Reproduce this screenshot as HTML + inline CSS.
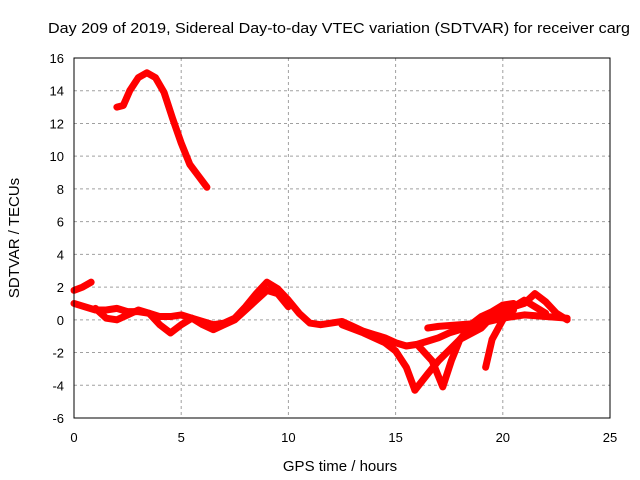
<!DOCTYPE html>
<html><head><meta charset="utf-8"><style>
body{margin:0;background:#fff}
svg{display:block;font-family:"Liberation Sans",sans-serif}
</style></head><body>
<svg id="chart" width="640" height="480">
<text x="339" y="33" text-anchor="middle" font-size="15" textLength="582" lengthAdjust="spacingAndGlyphs">Day 209 of 2019, Sidereal Day-to-day VTEC variation (SDTVAR) for receiver carg</text>
<text x="340" y="471" text-anchor="middle" font-size="15">GPS time / hours</text>
<text transform="translate(19,238) rotate(-90)" text-anchor="middle" font-size="15">SDTVAR / TECUs</text>
<g id="grid"></g><g id="series"></g><g id="axes"></g>
</svg>
<script>
const xTicks=[0,5,10,15,20,25];
const yTicks=[-6,-4,-2,0,2,4,6,8,10,12,14,16];
const arcX=[2.0,2.3,2.6,3.0,3.4,3.8,4.2,4.6,5.0,5.4,5.8,6.2];
const arcY=[13.0,13.1,14.0,14.8,15.1,14.8,13.9,12.3,10.8,9.5,8.8,8.1];
const startX=[0,0.4,0.8];
const startY=[1.8,2.0,2.3];
const mainX=[0,0.5,1,1.5,2,2.5,3,3.5,4,4.5,5,5.5,6,6.5,7,7.5,8,8.5,9,9.5,10,10.5,11,11.5,12,12.5,13,13.5,14,14.5,15,15.5,16,16.5,17,17.5,18,18.5,19,19.5,20,20.5,21,21.5,22,22.5,23];
const mainY=[1.0,0.8,0.6,0.6,0.7,0.5,0.5,0.4,0.2,0.2,0.3,0.1,-0.1,-0.3,-0.2,0.1,0.8,1.6,2.3,1.9,1.2,0.4,-0.2,-0.3,-0.2,-0.1,-0.4,-0.7,-0.9,-1.1,-1.4,-1.6,-1.5,-1.3,-1.1,-0.8,-0.6,-0.3,0.2,0.5,0.9,0.8,1.0,1.6,1.1,0.4,0.0];
const lowX=[1,1.5,2,2.5,3,3.5,4,4.5,5,5.5,6,6.5,7,7.5,8,8.5,9,9.5,10];
const lowY=[0.7,0.1,0.0,0.3,0.6,0.4,-0.3,-0.8,-0.3,0.1,-0.3,-0.6,-0.3,0.0,0.6,1.2,1.8,1.6,0.8];
const dropX=[12.5,13.5,14.5,15.0,15.5,15.9];
const dropY=[-0.3,-0.8,-1.4,-1.9,-2.9,-4.3];
const riseAX=[15.9,16.5,17,18,19,20,20.5];
const riseAY=[-4.3,-3.3,-2.5,-1.2,-0.5,0.9,1.0];
const riseBX=[16,16.7,17.2,17.6,18,18.5,19.5,20.5];
const riseBY=[-1.5,-2.5,-4.1,-2.5,-1.2,-0.4,0.3,0.6];
const riseCX=[19.2,19.5,20,20.5,21,21.5,22];
const riseCY=[-2.9,-1.2,0.0,0.8,1.2,0.8,0.4];
const upperX=[16.5,17,18,19,20,21,22,23];
const upperY=[-0.5,-0.4,-0.3,-0.2,0.1,0.3,0.2,0.1];
const L=74,R=610,T=58,B=418;
const sx=v=>L+(v-0)/(25-0)*(R-L);
const sy=v=>B-(v+6)/(22)*(B-T);
const NS="http://www.w3.org/2000/svg";
function mk(tag,attrs,parent){const e=document.createElementNS(NS,tag);for(const k in attrs)e.setAttribute(k,attrs[k]);parent.appendChild(e);return e;}
const grid=document.getElementById('grid'),axes=document.getElementById('axes'),ser=document.getElementById('series');
xTicks.forEach(t=>{
  if(t>0&&t<25){const g=mk('line',{x1:sx(t),x2:sx(t),y1:T,y2:B,stroke:'#a0a0a0','stroke-dasharray':'3,3'},grid);
  
  }
  const tx=mk('text',{x:sx(t),y:B+24,'text-anchor':'middle','font-size':13},axes);tx.textContent=t;
  
  
});
yTicks.forEach(t=>{
  if(t>-6&&t<16){const g=mk('line',{x1:L,x2:R,y1:sy(t),y2:sy(t),stroke:'#a0a0a0','stroke-dasharray':'3,3'},grid);
  
  }
  const tx=mk('text',{x:L-10,y:sy(t)+5,'text-anchor':'end','font-size':13},axes);tx.textContent=t;
  
  
});
const frame=mk('rect',{x:L,y:T,width:R-L,height:B-T,fill:'none',stroke:'#000'},axes);


const all=[[arcX,arcY,'arc-series'],[startX,startY,'start-series'],[mainX,mainY,'main-series'],[lowX,lowY,'low-series'],[dropX,dropY,'drop-series'],[riseAX,riseAY,'rise-a-series'],[riseBX,riseBY,'rise-b-series'],[riseCX,riseCY,'rise-c-series'],[upperX,upperY,'upper-series']];
all.forEach(([xs,ys,name])=>{
  const p=mk('polyline',{points:xs.map((x,i)=>sx(x)+','+sy(ys[i])).join(' '),fill:'none',stroke:'#ff0000','stroke-width':7,'stroke-linejoin':'round','stroke-linecap':'round'},ser);
  
  
});
</script>
</body></html>
